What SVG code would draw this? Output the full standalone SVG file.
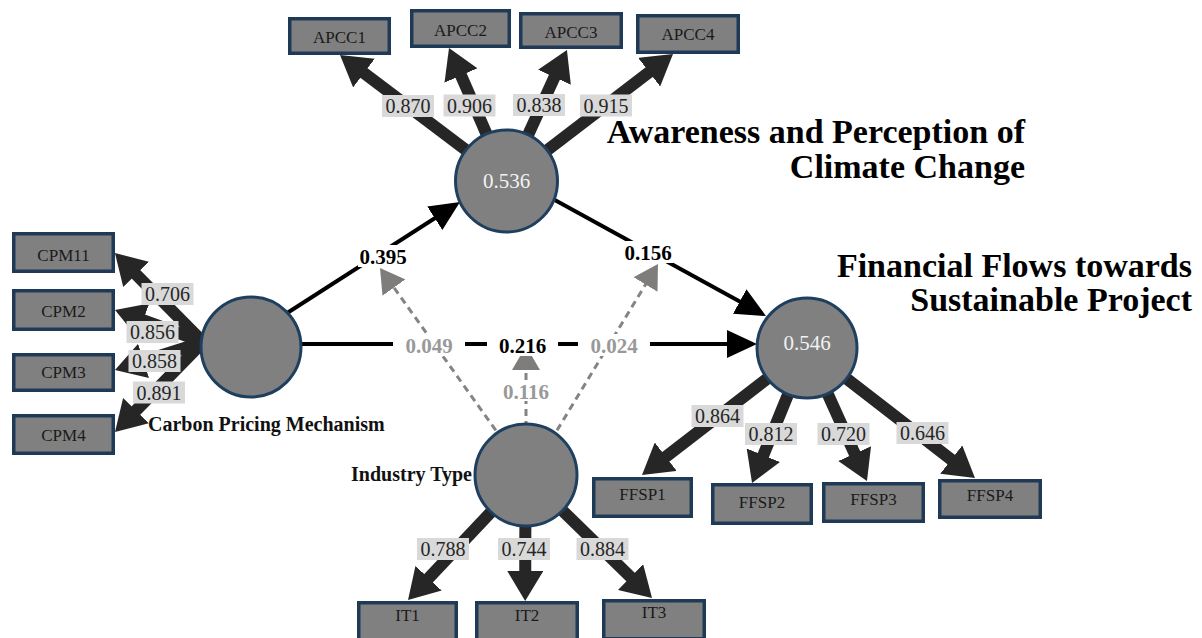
<svg xmlns="http://www.w3.org/2000/svg" width="1202" height="638" viewBox="0 0 1202 638">
<style>
.box{fill:#808080;stroke:#1f3a56;stroke-width:3.5}
.lv{fill:#808080;stroke:#1f3f5f;stroke-width:3}
.nt{font-family:"Liberation Serif","Times New Roman",serif;font-size:17px;fill:#1a1a1a;text-anchor:middle}
.ct{font-family:"Liberation Serif","Times New Roman",serif;font-size:21px;fill:#f2f2f2;text-anchor:middle}
.lbg{fill:#d9d9d9}
.ld{font-family:"Liberation Serif","Times New Roman",serif;font-size:20px;fill:#262626;text-anchor:middle}
.load{stroke:#262626;stroke-width:12;fill:none}
.pth{stroke:#000;stroke-width:4;fill:none}
.mod{stroke:#858383;stroke-width:3;stroke-dasharray:7 5;fill:none}
.wbg{fill:#fff}
.pl{font-family:"Liberation Serif","Times New Roman",serif;font-size:21px;font-weight:bold;fill:#000;text-anchor:middle}
.pg{fill:#999}
.ttl{font-family:"Liberation Serif","Times New Roman",serif;font-size:34px;font-weight:bold;fill:#000;text-anchor:end}
.lvn{font-family:"Liberation Serif","Times New Roman",serif;font-size:20px;font-weight:bold;fill:#111}
</style>
<defs>
<marker id="ah" markerUnits="userSpaceOnUse" markerWidth="30" markerHeight="36" viewBox="0 0 30 36" refX="15" refY="18" orient="auto"><path d="M0,0 L30,18 L0,36 Z" fill="#262626"/></marker>
<marker id="ab" markerUnits="userSpaceOnUse" markerWidth="30" markerHeight="28" viewBox="0 0 30 28" refX="25" refY="14" orient="auto"><path d="M0,0 L30,14 L0,28 Z" fill="#000"/></marker>
<marker id="ag" markerUnits="userSpaceOnUse" markerWidth="24" markerHeight="28" viewBox="0 0 24 28" refX="20" refY="14" orient="auto"><path d="M0,0 L24,14 L0,28 Z" fill="#7f7c7c"/></marker>
</defs>
<rect width="1202" height="638" fill="#fff"/>

<g id="connectors">
  <line class="load" x1="507" y1="181" x2="352.0" y2="64.0" marker-end="url(#ah)"/>
  <line class="load" x1="507" y1="181" x2="455.0" y2="61.7" marker-end="url(#ah)"/>
  <line class="load" x1="507" y1="181" x2="560.7" y2="63.6" marker-end="url(#ah)"/>
  <line class="load" x1="507" y1="181" x2="661.1" y2="63.1" marker-end="url(#ah)"/>
  <line class="load" x1="208.6" y1="347.7" x2="125.5" y2="263.7" marker-end="url(#ah)"/>
  <line class="load" x1="210.5" y1="344.7" x2="129.1" y2="315.1" marker-end="url(#ah)"/>
  <line class="load" x1="210.6" y1="339.6" x2="129.3" y2="365.5" marker-end="url(#ah)"/>
  <line class="load" x1="208.6" y1="336.3" x2="125.5" y2="421.3" marker-end="url(#ah)"/>
  <line class="load" x1="807" y1="348" x2="653.9" y2="465.9" marker-end="url(#ah)"/>
  <line class="load" x1="807" y1="348" x2="757.7" y2="469.1" marker-end="url(#ah)"/>
  <line class="load" x1="807" y1="348" x2="860.8" y2="467.3" marker-end="url(#ah)"/>
  <line class="load" x1="807" y1="348" x2="963.1" y2="468.8" marker-end="url(#ah)"/>
  <line class="load" x1="526" y1="475" x2="418.3" y2="589.1" marker-end="url(#ah)"/>
  <line class="load" x1="525.5" y1="475" x2="525.2" y2="586" marker-end="url(#ah)"/>
  <line class="load" x1="526" y1="475" x2="641.3" y2="587.5" marker-end="url(#ah)"/>
  <line class="pth" x1="278.2" y1="318.8" x2="455.8" y2="204.7" marker-end="url(#ab)"/>
  <line class="pth" x1="537.5" y1="190.4" x2="761.6" y2="313.6" marker-end="url(#ab)"/>
  <line class="pth" x1="290" y1="344" x2="752" y2="344" marker-end="url(#ab)"/>
  <line class="mod" x1="502.8" y1="440.1" x2="382.3" y2="271.3" marker-end="url(#ag)"/>
  <line class="mod" x1="550.8" y1="440.6" x2="655.9" y2="267.4" marker-end="url(#ag)"/>
  <line class="mod" x1="526" y1="440" x2="526" y2="350" marker-end="url(#ag)"/>

  <rect class="lbg" x="382" y="95" width="52" height="22"/><text class="ld" x="408" y="113">0.870</text>
  <rect class="lbg" x="443.5" y="94.5" width="52" height="22"/><text class="ld" x="469.5" y="112.5">0.906</text>
  <rect class="lbg" x="513" y="94" width="52" height="22"/><text class="ld" x="539" y="112">0.838</text>
  <rect class="lbg" x="580" y="94.5" width="52" height="22"/><text class="ld" x="606" y="112.5">0.915</text>
  <rect class="lbg" x="141.5" y="283" width="52" height="22"/><text class="ld" x="167.5" y="301">0.706</text>
  <rect class="lbg" x="126.5" y="321" width="52" height="22"/><text class="ld" x="152.5" y="339">0.856</text>
  <rect class="lbg" x="128.5" y="350" width="52" height="22"/><text class="ld" x="154.5" y="368">0.858</text>
  <rect class="lbg" x="133" y="381.5" width="52" height="22"/><text class="ld" x="159" y="399.5">0.891</text>
  <rect class="lbg" x="417" y="538" width="52" height="22"/><text class="ld" x="443" y="556">0.788</text>
  <rect class="lbg" x="498" y="538" width="52" height="22"/><text class="ld" x="524" y="556">0.744</text>
  <rect class="lbg" x="576.5" y="538" width="52" height="22"/><text class="ld" x="602.5" y="556">0.884</text>
  <rect class="lbg" x="691.5" y="405" width="52" height="22"/><text class="ld" x="717.5" y="423">0.864</text>
  <rect class="lbg" x="745" y="423" width="52" height="22"/><text class="ld" x="771" y="441">0.812</text>
  <rect class="lbg" x="817.5" y="423" width="52" height="22"/><text class="ld" x="843.5" y="441">0.720</text>
  <rect class="lbg" x="896.5" y="422" width="52" height="22"/><text class="ld" x="922.5" y="440">0.646</text>

  <rect class="wbg" x="358" y="245" width="50" height="22"/><text class="pl" x="383" y="263.5">0.395</text>
  <rect class="wbg" x="623" y="241" width="50" height="22"/><text class="pl" x="648" y="259.5">0.156</text>
  <rect class="wbg" x="393" y="334" width="72" height="22"/><text class="pl pg" x="429" y="352.5">0.049</text>
  <rect class="wbg" x="487" y="334" width="71" height="22"/><text class="pl" x="522.5" y="352.5">0.216</text>
  <rect class="wbg" x="578" y="334" width="72" height="22"/><text class="pl pg" x="614" y="352.5">0.024</text>
  <rect class="wbg" x="501" y="381" width="50" height="20"/><text class="pl pg" x="526" y="398.5">0.116</text>
</g>

<g id="APCC1"><rect class="box" x="289.75" y="18.75" width="99.5" height="34.5"/><text class="nt" x="339.5" y="43">APCC1</text></g>
<g id="APCC2"><rect class="box" x="411.75" y="10.75" width="97.5" height="35.5"/><text class="nt" x="460.5" y="36">APCC2</text></g>
<g id="APCC3"><rect class="box" x="520.75" y="13.75" width="100.5" height="33.5"/><text class="nt" x="571" y="37.5">APCC3</text></g>
<g id="APCC4"><rect class="box" x="637.75" y="15.75" width="100.5" height="36.5"/><text class="nt" x="688" y="39.5">APCC4</text></g>

<g id="CPM11"><rect class="box" x="13.75" y="233.75" width="99.5" height="37.5"/><text class="nt" x="63.5" y="261">CPM11</text></g>
<g id="CPM2"><rect class="box" x="13.75" y="290.75" width="99.5" height="38.5"/><text class="nt" x="63.5" y="316.5">CPM2</text></g>
<g id="CPM3"><rect class="box" x="13.75" y="354.75" width="99.5" height="35.5"/><text class="nt" x="63.5" y="377.5">CPM3</text></g>
<g id="CPM4"><rect class="box" x="13.75" y="415.75" width="99.5" height="37.5"/><text class="nt" x="63.5" y="441">CPM4</text></g>

<g id="IT1"><rect class="box" x="358.75" y="602.75" width="97.5" height="38"/><text class="nt" x="407.5" y="621">IT1</text></g>
<g id="IT2"><rect class="box" x="476.75" y="602.75" width="100.5" height="38"/><text class="nt" x="527" y="621">IT2</text></g>
<g id="IT3"><rect class="box" x="603.75" y="600.75" width="100.5" height="38"/><text class="nt" x="654" y="618">IT3</text></g>

<g id="FFSP1"><rect class="box" x="593.75" y="478.75" width="97.5" height="37.5"/><text class="nt" x="642.5" y="500">FFSP1</text></g>
<g id="FFSP2"><rect class="box" x="712.75" y="484.75" width="98.5" height="38.5"/><text class="nt" x="762" y="507.5">FFSP2</text></g>
<g id="FFSP3"><rect class="box" x="823.75" y="483.75" width="99.5" height="37.5"/><text class="nt" x="873.5" y="504.5">FFSP3</text></g>
<g id="FFSP4"><rect class="box" x="939.75" y="480.75" width="100.5" height="36.5"/><text class="nt" x="990" y="500.5">FFSP4</text></g>

<g id="APCC">
  <circle class="lv" cx="506.5" cy="181" r="51"/>
  <text class="ct" x="506.5" y="188">0.536</text>
  <text class="ttl" x="1025" y="143">Awareness and Perception of</text>
  <text class="ttl" x="1025" y="178">Climate Change</text>
</g>
<g id="CPM">
  <circle class="lv" cx="251" cy="347" r="50"/>
  <text class="lvn" x="148" y="431">Carbon Pricing Mechanism</text>
</g>
<g id="FFSP">
  <circle class="lv" cx="807" cy="348" r="50"/>
  <text class="ct" x="807" y="350">0.546</text>
  <text class="ttl" x="1192" y="277">Financial Flows towards</text>
  <text class="ttl" x="1192" y="311">Sustainable Project</text>
</g>
<g id="IT">
  <circle class="lv" cx="526" cy="475" r="51"/>
  <text class="lvn" x="472" y="481" text-anchor="end">Industry Type</text>
</g>
</svg>
